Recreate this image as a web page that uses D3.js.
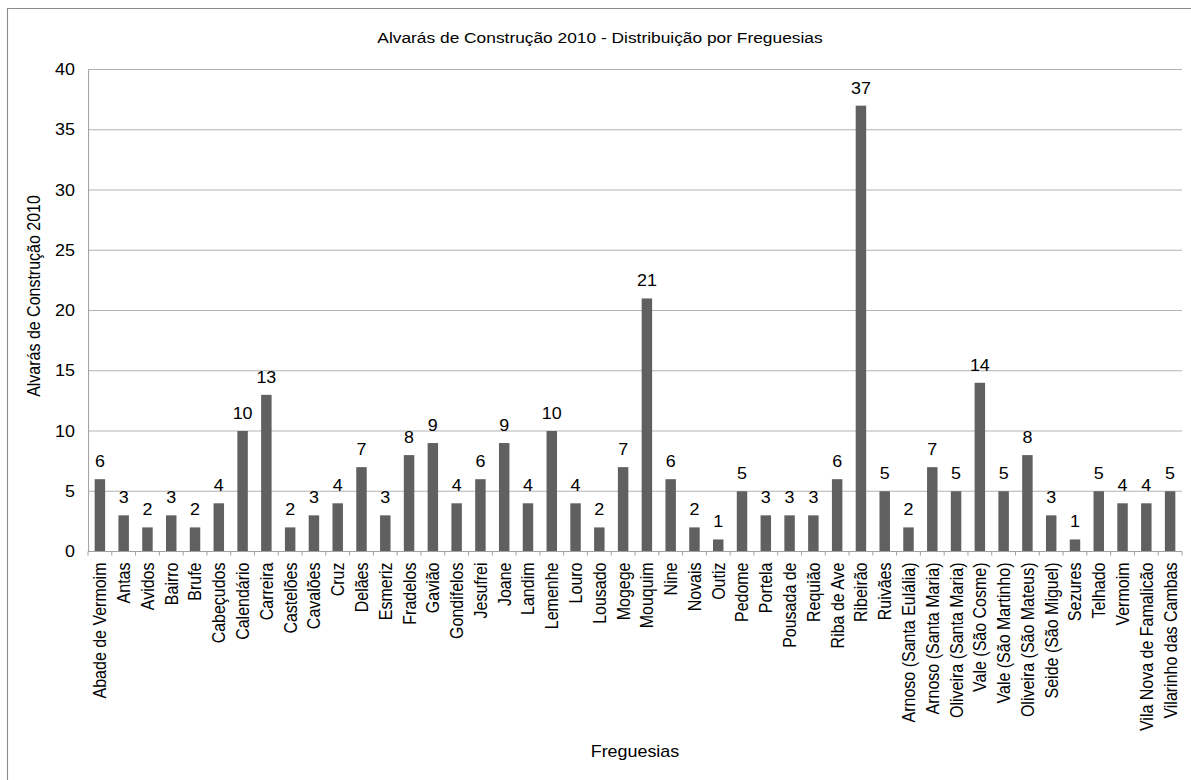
<!DOCTYPE html>
<html>
<head>
<meta charset="utf-8">
<script src="https://cdn.jsdelivr.net/npm/d3@7"></script>
<style>
  html, body { margin: 0; padding: 0; background: #fff; }
  svg { display: block; }
  text { font-family: "Liberation Sans", Arial, sans-serif; fill: #000; }
</style>
</head>
<body>
<script>
// Freguesias and building permits issued in 2010
const freguesias = [
  "Abade de Vermoim", "Antas", "Avidos", "Bairro", "Brufe", "Cabeçudos",
  "Calendário", "Carreira", "Castelões", "Cavalões", "Cruz", "Delães",
  "Esmeriz", "Fradelos", "Gavião", "Gondifelos", "Jesufrei", "Joane",
  "Landim", "Lemenhe", "Louro", "Lousado", "Mogege", "Mouquim", "Nine",
  "Novais", "Outiz", "Pedome", "Portela", "Pousada de", "Requião",
  "Riba de Ave", "Ribeirão", "Ruivães", "Arnoso (Santa Eulália)",
  "Arnoso (Santa Maria)", "Oliveira (Santa Maria)", "Vale (São Cosme)",
  "Vale (São Martinho)", "Oliveira (São Mateus)", "Seide (São Miguel)",
  "Sezures", "Telhado", "Vermoim", "Vila Nova de Famalicão",
  "Vilarinho das Cambas"
];
const alvaras = [
  6, 3, 2, 3, 2, 4,
  10, 13, 2, 3, 4, 7,
  3, 8, 9, 4, 6, 9,
  4, 10, 4, 2, 7, 21, 6,
  2, 1, 5, 3, 3, 3,
  6, 37, 5, 2,
  7, 5, 14,
  5, 8, 3,
  1, 5, 4, 4,
  5
];
const yTicks = [0, 5, 10, 15, 20, 25, 30, 35, 40];

const chartTitle = "Alvarás de Construção 2010 - Distribuição por Freguesias";
const yTitle = "Alvarás de Construção 2010";
const xTitle = "Freguesias";

// The drawing is laid out in a slightly narrower space and stretched to the page width
const pageW = 1191, pageH = 780, sx = 1.12;
const W = pageW / sx, H = pageH;

const svg = d3.select("body").append("svg")
  .attr("width", pageW).attr("height", pageH)
  .attr("viewBox", `0 0 ${W} ${H}`)
  .attr("preserveAspectRatio", "none");

const plot = { left: 88 / sx, right: 1182 / sx, top: 69.5, bottom: 551.5 };

// Outer chart frame
svg.append("rect")
  .attr("x", 7.5 / sx).attr("y", 8.5)
  .attr("width", W).attr("height", H)
  .attr("fill", "none").attr("stroke", "#8c8c8c").attr("stroke-width", 1);

const x = d3.scaleBand()
  .domain(freguesias)
  .range([plot.left, plot.right])
  .paddingInner(0.56)
  .paddingOuter(0.28);

const y = d3.scaleLinear().domain([0, 40]).range([plot.bottom, plot.top]);

// Horizontal gridlines
svg.append("g").selectAll("line")
  .data(yTicks.filter(t => t > 0))
  .join("line")
  .attr("x1", plot.left).attr("x2", plot.right)
  .attr("y1", d => y(d)).attr("y2", d => y(d))
  .attr("stroke", "#b3b3b3").attr("stroke-width", 1)
  .attr("vector-effect", "non-scaling-stroke");

// Y axis with labels only
const yAxis = svg.append("g")
  .attr("transform", `translate(${plot.left},0)`)
  .call(d3.axisLeft(y).tickValues(yTicks).tickSize(0).tickPadding(13 / sx));
yAxis.select(".domain").attr("stroke", "#a0a0a0").attr("vector-effect", "non-scaling-stroke");
yAxis.selectAll("text")
  .attr("font-size", 16)
  .attr("font-family", "'Liberation Sans', Arial, sans-serif")
  .attr("fill", "#000");

// Bars
svg.append("g").selectAll("rect")
  .data(freguesias)
  .join("rect")
  .attr("x", d => x(d))
  .attr("width", x.bandwidth())
  .attr("y", (d, i) => y(alvaras[i]))
  .attr("height", (d, i) => y(0) - y(alvaras[i]))
  .attr("fill", "#606060");

// Value labels
svg.append("g").selectAll("text")
  .data(freguesias)
  .join("text")
  .attr("x", d => x(d) + x.bandwidth() / 2)
  .attr("y", (d, i) => y(alvaras[i]) - 12)
  .attr("text-anchor", "middle")
  .attr("font-size", 16)
  .text((d, i) => alvaras[i]);

// X axis: baseline, boundary ticks, rotated category names
const step = x.step();
const gap = (step - x.bandwidth()) / 2;
const xAxis = svg.append("g");
xAxis.append("line")
  .attr("x1", plot.left).attr("x2", plot.right)
  .attr("y1", plot.bottom).attr("y2", plot.bottom)
  .attr("stroke", "#a0a0a0").attr("vector-effect", "non-scaling-stroke");
xAxis.selectAll("line.tick")
  .data(freguesias.map(d => x(d) - gap).concat([plot.right]))
  .join("line")
  .attr("class", "tick")
  .attr("x1", d => d).attr("x2", d => d)
  .attr("y1", plot.bottom).attr("y2", plot.bottom + 4)
  .attr("stroke", "#a0a0a0").attr("vector-effect", "non-scaling-stroke");
xAxis.selectAll("text")
  .data(freguesias)
  .join("text")
  .attr("transform", d => `translate(${x(d) + x.bandwidth() / 2},${plot.bottom + 11}) rotate(-90)`)
  .attr("text-anchor", "end")
  .attr("dy", "0.36em")
  .attr("font-size", 16)
  .text(d => d);

// Titles
svg.append("text")
  .attr("x", 600 / sx).attr("y", 43)
  .attr("text-anchor", "middle")
  .attr("font-size", 15.5)
  .text(chartTitle);

svg.append("text")
  .attr("transform", `translate(${40 / sx},${296}) rotate(-90)`)
  .attr("text-anchor", "middle")
  .attr("font-size", 16)
  .text(yTitle);

svg.append("text")
  .attr("x", (plot.left + plot.right) / 2).attr("y", 757)
  .attr("text-anchor", "middle")
  .attr("font-size", 16)
  .text(xTitle);
</script>
</body>
</html>
